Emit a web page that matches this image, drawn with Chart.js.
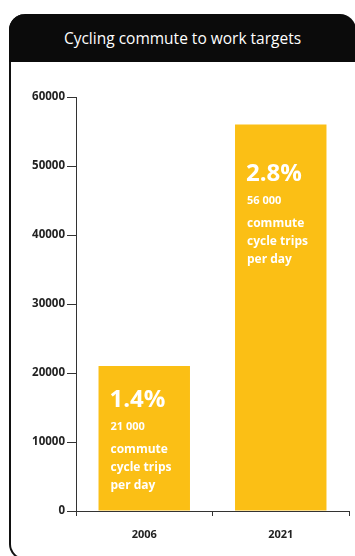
<!DOCTYPE html>
<html>
<head>
<meta charset="utf-8">
<script src="https://cdn.jsdelivr.net/npm/chart.js@4.4.0/dist/chart.umd.min.js"></script>
<style>
  html, body { margin: 0; padding: 0; background: #fff; }
  body { width: 355px; height: 556px; position: relative; overflow: hidden; font-family: "Open Sans", sans-serif; }
  .card {
    position: absolute; left: 9px; top: 14px; width: 360px; height: 546px;
    border: 2px solid #111; border-top: none; border-right: none;
    border-radius: 16px 16px 0 16px; box-sizing: border-box;
  }
  .card-head {
    position: absolute; left: 9px; top: 14px; width: 347px; height: 48px;
    background: #0b0b0b; border-radius: 16px 16px 0 0;
    color: #fff; font-size: 15.5px; line-height: 48px; text-align: center;
  }
  #chartWrap { position: absolute; left: 0; top: 0; width: 355px; height: 556px; }
</style>
</head>
<body>
<div class="card"></div>
<div class="card-head">Cycling commute to work targets</div>
<div id="chartWrap"><canvas id="commuteChart" width="355" height="556"></canvas></div>
<script>
// Data
const years = ['2006', '2021'];
const trips = [21000, 56000];
const shares = ['1.4%', '2.8%'];
const tripLabels = ['21 000', '56 000'];
const yTicks = [0, 10000, 20000, 30000, 40000, 50000, 60000];

const barColor = '#FBBF15';
const axisColor = '#333';

const ctx = document.getElementById('commuteChart').getContext('2d');

// Writes the percentage and the trip note inside each bar
const barTextPlugin = {
  id: 'barTextPlugin',
  afterDatasetsDraw(chart) {
    const { ctx } = chart;
    const meta = chart.getDatasetMeta(0);
    const topGap = [24, 39]; // distance from bar top to the big number
    meta.data.forEach((bar, i) => {
      const left = bar.x - bar.width / 2 + 12;
      const t = bar.y + topGap[i];
      ctx.save();
      ctx.fillStyle = '#fff';
      ctx.textAlign = 'left';
      ctx.textBaseline = 'alphabetic';
      ctx.font = 'bold 24px "Open Sans", sans-serif';
      ctx.fillText(shares[i], left - 1, t + 17);
      ctx.font = 'bold 11px "Open Sans", sans-serif';
      ctx.fillText(tripLabels[i], left, t + 40);
      ctx.font = 'bold 12px "Open Sans", sans-serif';
      ['commute', 'cycle trips', 'per day'].forEach((line, k) => {
        ctx.fillText(line, left, t + 63 + k * 18);
      });
      ctx.restore();
    });
  }
};

new Chart(ctx, {
  type: 'bar',
  data: {
    labels: years,
    datasets: [{
      data: trips,
      backgroundColor: barColor,
      borderWidth: 0,
      barPercentage: 0.67,
      categoryPercentage: 1
    }]
  },
  options: {
    responsive: false,
    animation: false,
    layout: { padding: { top: 97, right: 6, left: 0, bottom: 0 } },
    plugins: {
      legend: { display: false },
      tooltip: { enabled: false }
    },
    scales: {
      x: {
        afterFit: scale => { scale.height = 45; },
        grid: { drawOnChartArea: false, offset: true, color: axisColor, tickLength: 5 },
        border: { color: axisColor, width: 1 },
        ticks: {
          color: '#222',
          padding: 12,
          font: { family: '"Open Sans", sans-serif', size: 11, weight: 'bold' }
        }
      },
      y: {
        min: 0,
        max: 60000,
        afterFit: scale => { scale.width = 76; },
        afterBuildTicks: scale => { scale.ticks = yTicks.map(v => ({ value: v })); },
        grid: { drawOnChartArea: false, color: axisColor, tickLength: 9 },
        border: { color: axisColor, width: 1 },
        ticks: {
          color: '#222',
          padding: 2,
          callback: v => String(v),
          font: { family: '"Open Sans", sans-serif', size: 11.5, weight: 'bold' }
        }
      }
    }
  },
  plugins: [barTextPlugin]
});
</script>
</body>
</html>
